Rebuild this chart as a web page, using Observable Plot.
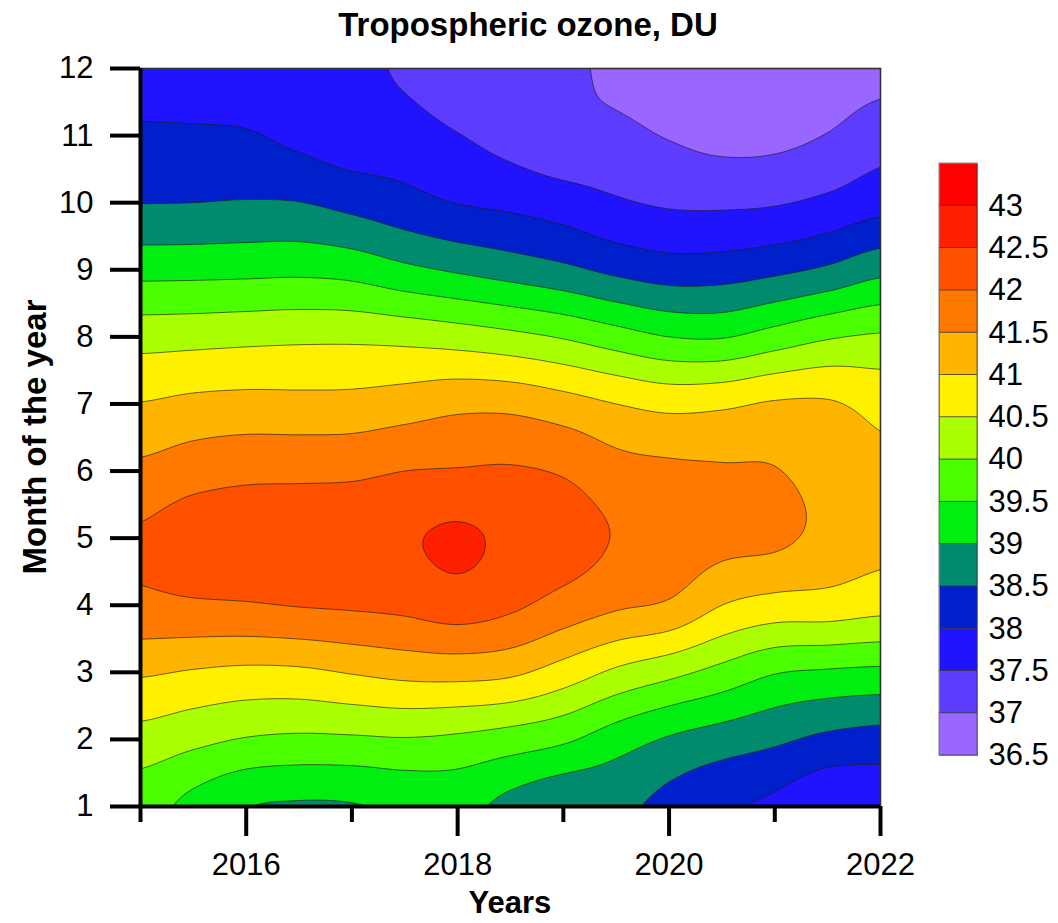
<!DOCTYPE html>
<html>
<head>
<meta charset="utf-8">
<script src="https://cdn.jsdelivr.net/npm/d3@7"></script>
<script src="https://cdn.jsdelivr.net/npm/@observablehq/plot@0.6"></script>
<style>
html, body { margin: 0; padding: 0; background: #fff; }
#wrap { position: relative; width: 1058px; height: 923px; overflow: hidden; font-family: "Liberation Sans", Arial, sans-serif; }
#wrap svg { position: absolute; }
</style>
</head>
<body>
<div id="wrap"></div>
<script>
// ---- data: columns = years, rows = months 1..12 ----
const years = [2015, 2015.5, 2016, 2016.5, 2017, 2017.5, 2018, 2018.5, 2019, 2019.5, 2020, 2020.5, 2021, 2021.5, 2022];
const months = [1, 2, 3, 4, 5, 6, 7, 8, 9, 10, 11, 12];

const col2015  = [39.70, 40.31, 41.06, 41.88, 42.06, 41.61, 41.02, 40.30, 39.34, 38.49, 38.09, 37.70];
const col2015h = [39.35, 40.13, 40.96, 41.93, 42.28, 41.78, 41.12, 40.33, 39.35, 38.50, 38.08, 37.66];
const col2016  = [39.02, 39.97, 40.89, 41.96, 42.35, 41.87, 41.16, 40.37, 39.37, 38.53, 38.05, 37.60];
const col2016h = [38.95, 39.91, 40.91, 42.02, 42.38, 41.88, 41.15, 40.40, 39.39, 38.51, 37.87, 37.58];
const col2017  = [38.97, 39.93, 41.03, 42.06, 42.40, 41.90, 41.16, 40.40, 39.32, 38.35, 37.72, 37.62];
const col2017h = [39.10, 39.97, 41.14, 42.12, 42.45, 42.00, 41.25, 40.35, 39.11, 38.17, 37.72, 37.42];
const col2018  = [39.15, 39.91, 41.17, 42.25, 42.57, 42.03, 41.37, 40.26, 38.94, 37.99, 37.52, 37.12];
const col2018h = [38.85, 39.77, 41.09, 42.09, 42.40, 42.05, 41.36, 40.13, 38.78, 37.89, 37.31, 37.08];
const col2019  = [38.60, 39.58, 40.78, 41.81, 42.25, 41.95, 41.20, 39.96, 38.61, 37.75, 37.12, 37.12];
const col2019h = [38.60, 39.24, 40.41, 41.57, 41.97, 41.68, 41.00, 39.72, 38.39, 37.56, 37.13, 36.85];
const col2020  = [38.35, 38.95, 40.14, 41.43, 41.80, 41.60, 40.86, 39.50, 38.24, 37.44, 36.97, 36.60];
const col2020h = [38.08, 38.76, 39.84, 41.00, 41.65, 41.55, 40.91, 39.47, 38.26, 37.42, 36.85, 36.55];
const col2021  = [37.90, 38.59, 39.53, 40.81, 41.60, 41.52, 41.05, 39.71, 38.39, 37.46, 36.87, 36.60];
const col2021h = [37.60, 38.39, 39.44, 40.78, 41.35, 41.30, 41.05, 39.95, 38.58, 37.61, 37.02, 36.70];
const col2022  = [37.65, 38.30, 39.39, 40.66, 41.15, 41.10, 40.85, 40.06, 38.86, 37.82, 37.28, 36.83];

const columns = [col2015, col2015h, col2016, col2016h, col2017, col2017h, col2018, col2018h,
                 col2019, col2019h, col2020, col2020h, col2021, col2021h, col2022];

// contour levels / legend labels and band colours
const levels = [36.5, 37, 37.5, 38, 38.5, 39, 39.5, 40, 40.5, 41, 41.5, 42, 42.5, 43];
const colors = ["#9966FF", "#5C3CFF", "#2014FF", "#0020CC", "#008A6E", "#00EE10", "#4CFF00",
                "#AAFF00", "#FFF000", "#FFB400", "#FF7800", "#FF5000", "#FF2000", "#FF0000"];
const yearTicks = [2016, 2018, 2020, 2022];
const minorYearTicks = [2015, 2017, 2019, 2021];

// table of samples (months outer, years inner)
const samples = [];
months.forEach((m, j) => years.forEach((yr, i) => samples.push({year: yr, month: m, value: columns[i][j]})));

// smooth (Catmull-Rom) spatial interpolation of the regular sample grid for Plot's raster
function gridSpline(index, w, h, X, Y, V) {
  const nx = years.length, ny = months.length;
  const gx0 = X[index[0]], gx1 = X[index[nx - 1]];
  const gy0 = Y[index[0]], gy1 = Y[index[(ny - 1) * nx]];
  const cl = (a, lo, hi) => Math.max(lo, Math.min(hi, a));
  const G = (i, j) => V[index[cl(j, 0, ny - 1) * nx + cl(i, 0, nx - 1)]];
  const cr = (p0, p1, p2, p3, t) => p1 + 0.5 * t * (p2 - p0 + t * (2 * p0 - 5 * p1 + 4 * p2 - p3 + t * (3 * (p1 - p2) + p3 - p0)));
  const W = new Float64Array(w * h);
  for (let r = 0; r < h; r++) {
    const v = cl((r + 0.5 - gy0) / (gy1 - gy0) * (ny - 1), 0, ny - 1);
    const j = Math.min(ny - 2, Math.floor(v)), tv = v - j;
    for (let c = 0; c < w; c++) {
      const u = cl((c + 0.5 - gx0) / (gx1 - gx0) * (nx - 1), 0, nx - 1);
      const i = Math.min(nx - 2, Math.floor(u)), tu = u - i;
      const a = cr(G(i - 1, j - 1), G(i, j - 1), G(i + 1, j - 1), G(i + 2, j - 1), tu);
      const b = cr(G(i - 1, j), G(i, j), G(i + 1, j), G(i + 2, j), tu);
      const c2 = cr(G(i - 1, j + 1), G(i, j + 1), G(i + 1, j + 1), G(i + 2, j + 1), tu);
      const d = cr(G(i - 1, j + 2), G(i, j + 2), G(i + 1, j + 2), G(i + 2, j + 2), tu);
      W[r * w + c] = cr(a, b, c2, d, tv);
    }
  }
  return W;
}

const FONT = "Liberation Sans, Arial, Helvetica, sans-serif";

const chart = Plot.plot({
  width: 1058,
  height: 923,
  marginLeft: 140,
  marginRight: 178,
  marginTop: 68,
  marginBottom: 117,
  x: {domain: [2015, 2022], axis: null},
  y: {domain: [1, 12], axis: null},
  color: {type: "threshold", domain: levels.slice(1), range: colors},
  style: {fontFamily: FONT, fontSize: "30px", color: "black", background: "white", overflow: "visible"},
  marks: [
    Plot.contour(samples, {
      x: "year", y: "month", fill: "value",
      x1: 2015, x2: 2022, y1: 1, y2: 12,
      interpolate: gridSpline,
      pixelSize: 1,
      thresholds: levels,
      stroke: "#1a1a1a", strokeWidth: 0.75, strokeOpacity: 0.85,
      clip: true
    }),
    Plot.frame({stroke: "#333", strokeWidth: 1.6}),
    Plot.axisY(months, {tickSize: 30, tickPadding: 17, strokeWidth: 4, fontSize: 31, label: null, tickFormat: d => String(d)}),
    Plot.axisX(yearTicks, {tickSize: 30, tickPadding: 16, strokeWidth: 4, fontSize: 31, label: null, tickFormat: d => String(d)}),
    Plot.axisX(minorYearTicks, {tickSize: 16, strokeWidth: 4, label: null, tickFormat: () => ""}),
    Plot.ruleX([2015], {strokeWidth: 4}),
    Plot.ruleY([1], {strokeWidth: 4})
  ]
});
chart.style.left = "0px";
chart.style.top = "0px";

const svg = d3.select(chart);
svg.append("text")
  .attr("x", 528).attr("y", 36)
  .attr("text-anchor", "middle")
  .attr("font-family", FONT).attr("font-weight", "bold").attr("font-size", 33)
  .attr("fill", "black")
  .text("Tropospheric ozone, DU");
svg.append("text")
  .attr("x", 510).attr("y", 913)
  .attr("text-anchor", "middle")
  .attr("font-family", FONT).attr("font-weight", "bold").attr("font-size", 31)
  .attr("fill", "black")
  .text("Years");
svg.append("text")
  .attr("transform", "translate(46,437) rotate(-90)")
  .attr("text-anchor", "middle")
  .attr("font-family", FONT).attr("font-weight", "bold").attr("font-size", 33)
  .attr("fill", "black")
  .text("Month of the year");

// legend: colour bands with the level labels
const bands = levels.map((lo, i) => ({lo, hi: lo + 0.5, color: colors[i]}));
const legend = Plot.plot({
  width: 128,
  height: 640,
  marginLeft: 9,
  marginRight: 81,
  marginTop: 23,
  marginBottom: 25,
  x: {domain: [0, 1], axis: null},
  y: {domain: [36.5, 43.5], axis: null},
  color: {type: "identity"},
  style: {fontFamily: FONT, fontSize: "30px", color: "black", background: "transparent", overflow: "visible"},
  marks: [
    Plot.rect(bands, {x1: 0, x2: 1, y1: "lo", y2: "hi", fill: "color", stroke: "#333", strokeWidth: 0.8, strokeOpacity: 0.8}),
    Plot.frame({stroke: "#777", strokeWidth: 1}),
    Plot.text(levels, {x: 1, y: d => d, text: d => String(d), dx: 11, textAnchor: "start", fontSize: 31, fill: "black"})
  ]
});
legend.style.left = "930px";
legend.style.top = "140px";

const wrap = document.getElementById("wrap");
wrap.appendChild(chart);
wrap.appendChild(legend);
</script>
</body>
</html>
